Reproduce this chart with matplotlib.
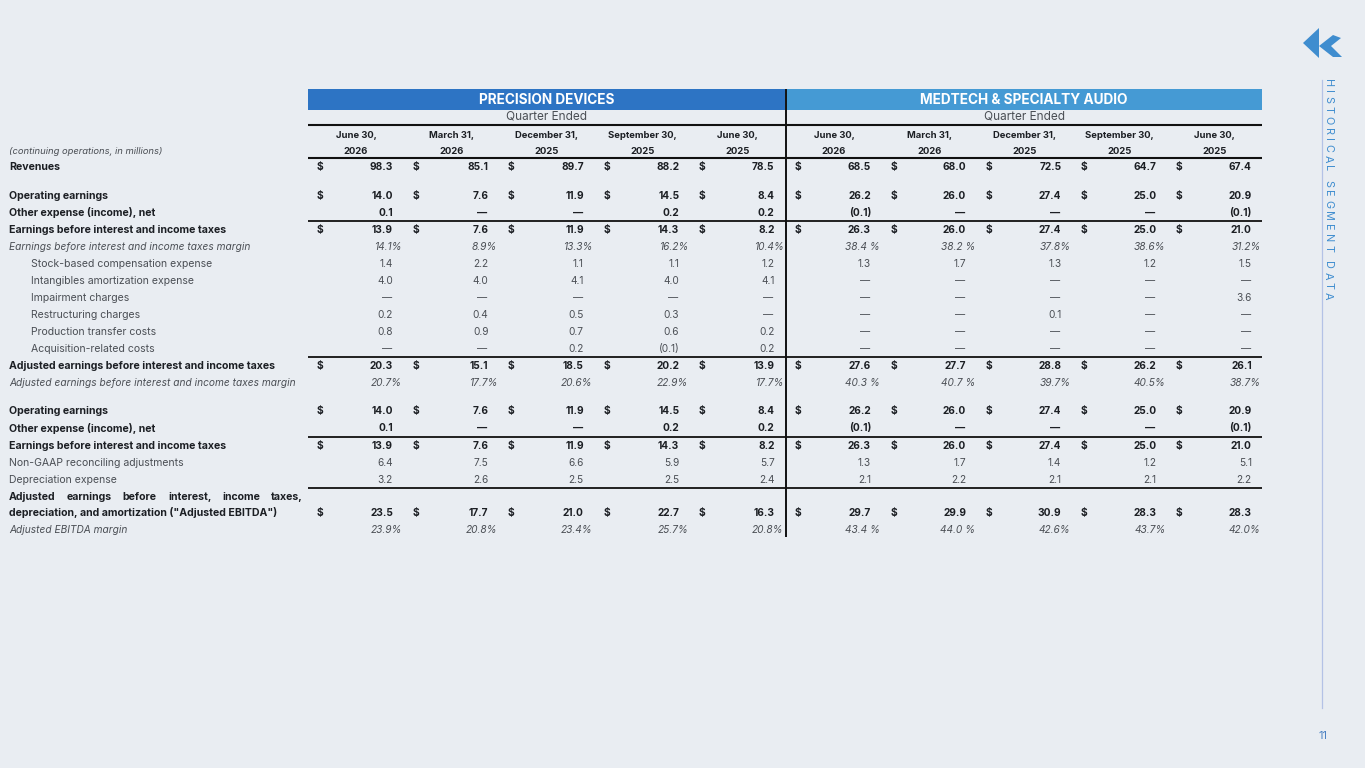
import matplotlib.pyplot as plt
from matplotlib.patches import Rectangle, Polygon

plt.rcParams['font.family'] = ['Inter', 'DejaVu Sans']

# ---------------------- DATA ----------------------
segments = ["PRECISION DEVICES", "MEDTECH & SPECIALTY AUDIO"]
quarters = ["June 30,", "March 31,", "December 31,", "September 30,", "June 30,"]
years = ["2026", "2026", "2025", "2025", "2025"]

# first five values: Precision Devices, last five: MedTech & Specialty Audio
# None = dash, negative = shown in parentheses
revenues = [98.3, 85.1, 89.7, 88.2, 78.5, 68.5, 68.0, 72.5, 64.7, 67.4]
operating_earnings = [14.0, 7.6, 11.9, 14.5, 8.4, 26.2, 26.0, 27.4, 25.0, 20.9]
other_expense = [0.1, None, None, 0.2, 0.2, -0.1, None, None, None, -0.1]
ebit = [13.9, 7.6, 11.9, 14.3, 8.2, 26.3, 26.0, 27.4, 25.0, 21.0]
ebit_margin = [14.1, 8.9, 13.3, 16.2, 10.4, 38.4, 38.2, 37.8, 38.6, 31.2]
stock_comp = [1.4, 2.2, 1.1, 1.1, 1.2, 1.3, 1.7, 1.3, 1.2, 1.5]
intangibles = [4.0, 4.0, 4.1, 4.0, 4.1, None, None, None, None, None]
impairment = [None, None, None, None, None, None, None, None, None, 3.6]
restructuring = [0.2, 0.4, 0.5, 0.3, None, None, None, 0.1, None, None]
production_transfer = [0.8, 0.9, 0.7, 0.6, 0.2, None, None, None, None, None]
acquisition = [None, None, 0.2, -0.1, 0.2, None, None, None, None, None]
adj_ebit = [20.3, 15.1, 18.5, 20.2, 13.9, 27.6, 27.7, 28.8, 26.2, 26.1]
adj_ebit_margin = [20.7, 17.7, 20.6, 22.9, 17.7, 40.3, 40.7, 39.7, 40.5, 38.7]
non_gaap_adj = [6.4, 7.5, 6.6, 5.9, 5.7, 1.3, 1.7, 1.4, 1.2, 5.1]
depreciation = [3.2, 2.6, 2.5, 2.5, 2.4, 2.1, 2.2, 2.1, 2.1, 2.2]
adj_ebitda = [23.5, 17.7, 21.0, 22.7, 16.3, 29.7, 29.9, 30.9, 28.3, 28.3]
adj_ebitda_margin = [23.9, 20.8, 23.4, 25.7, 20.8, 43.4, 44.0, 42.6, 43.7, 42.0]

rows = [
    ("Revenues", revenues),
    ("Operating earnings", operating_earnings),
    ("Other expense (income), net", other_expense),
    ("Earnings before interest and income taxes", ebit),
    ("Earnings before interest and income taxes margin", ebit_margin),
    ("Stock-based compensation expense", stock_comp),
    ("Intangibles amortization expense", intangibles),
    ("Impairment charges", impairment),
    ("Restructuring charges", restructuring),
    ("Production transfer costs", production_transfer),
    ("Acquisition-related costs", acquisition),
    ("Adjusted earnings before interest and income taxes", adj_ebit),
    ("Adjusted earnings before interest and income taxes margin", adj_ebit_margin),
    ("Operating earnings", operating_earnings),
    ("Other expense (income), net", other_expense),
    ("Earnings before interest and income taxes", ebit),
    ("Non-GAAP reconciling adjustments", non_gaap_adj),
    ("Depreciation expense", depreciation),
    ("Adjusted earnings before interest, income taxes,\n"
     "depreciation, and amortization (\"Adjusted EBITDA\")", adj_ebitda),
    ("Adjusted EBITDA margin", adj_ebitda_margin),
]

# ---------------------- LAYOUT / STYLE ----------------------
# dollar = bold with $, bold = bold no $, pct = italic margin, sub = indented, plain = regular
row_kinds = ["dollar", "dollar", "bold", "dollar", "pct", "sub", "sub", "sub", "sub",
             "sub", "sub", "dollar", "pct", "dollar", "bold", "dollar", "plain",
             "plain", "dollar", "pct"]
row_y = [167, 196, 213, 230, 247, 264, 281, 298, 315, 332, 349, 366, 383,
         411, 428, 446, 463, 480, 513, 530]
rule_y = [221, 357, 437, 488]

BG = "#e9edf2"
DARK = "#1c1f24"
GREY = "#4b4f55"
PD_BLUE = "#2d74c4"
MT_BLUE = "#459ad4"
ACCENT = "#3f8dcf"

seg_left = [308, 786]
seg_right = [785, 1262]
col_w = [(seg_right[0] - seg_left[0]) / 5, (seg_right[1] - seg_left[1]) / 5]
FS = 7.3          # numbers
FS_BOLD = 7.6     # bold row labels
FS_REG = 7.55     # regular row labels

fig = plt.figure(figsize=(13.65, 7.68), dpi=100)
fig.patch.set_facecolor(BG)
ax = fig.add_axes([0, 0, 1, 1])
ax.set_xlim(0, 1365)
ax.set_ylim(768, 0)
ax.axis("off")


def fmt(v, pct, spaced=False):
    if v is None:
        return "\u2014"
    if pct:
        return f"{v:.1f} %" if spaced else f"{v:.1f}%"
    if v < 0:
        return f"({abs(v):.1f})"
    return f"{v:.1f}"


# segment header bars
for s in range(2):
    color = PD_BLUE if s == 0 else MT_BLUE
    ax.add_patch(Rectangle((seg_left[s], 89), seg_right[s] - seg_left[s], 21,
                           facecolor=color, edgecolor="none"))
    mid = (seg_left[s] + seg_right[s]) / 2
    ax.text(mid, 100.5, segments[s], ha="center", va="center", color="white",
            fontsize=9.8, fontweight="bold")
    ax.text(mid, 117, "Quarter Ended", ha="center", va="center", color=GREY,
            fontsize=8.5)
    for i in range(5):
        x0 = seg_left[s] + i * col_w[s]
        ax.text(x0 + 48, 135, quarters[i], ha="center", va="center", color=DARK,
                fontsize=6.8, fontweight="bold")
        ax.text(x0 + 48, 151, years[i], ha="center", va="center", color=DARK,
                fontsize=6.8, fontweight="bold")

ax.text(9, 151, "(continuing operations, in millions)", ha="left", va="center",
        color=GREY, fontsize=6.8, style="italic")

# rules
for y in (125, 158):
    ax.plot([308, 1262], [y, y], color="#111111", lw=1.5, solid_capstyle="butt")
for y in rule_y:
    ax.plot([308, 1262], [y, y], color="#111111", lw=1.3, solid_capstyle="butt")
ax.plot([786, 786], [89, 537], color="#111111", lw=1.4, solid_capstyle="butt")

# table body
justify_jobs = []
for (label, vals), kind, y in zip(rows, row_kinds, row_y):
    bold = kind in ("dollar", "bold")
    pct = kind == "pct"
    weight = "bold" if bold else "normal"
    style = "italic" if pct else "normal"
    tcolor = DARK if bold else GREY
    lfs = FS_BOLD if bold else (FS if pct else FS_REG)
    if "\n" in label:
        justify_jobs.append((label.split("\n")[0], y - 16))
        ax.text(9, y, label.split("\n")[1], ha="left", va="center", color=tcolor,
                fontsize=lfs, fontweight=weight)
    else:
        lx = 31 if kind == "sub" else 9
        ax.text(lx, y, label, ha="left", va="center", color=tcolor,
                fontsize=lfs, fontweight=weight, style=style)
    for s in range(2):
        for i in range(5):
            x0 = seg_left[s] + i * col_w[s]
            v = vals[s * 5 + i]
            spaced = pct and s == 1 and i < 2
            txt = fmt(v, pct, spaced)
            if kind == "dollar":
                ax.text(x0 + 9, y, "$", ha="left", va="center", color=DARK,
                        fontsize=FS, fontweight="bold")
            xr = x0 + 94 if pct else x0 + 85
            if v is None:
                xr -= 1
            ax.text(xr, y, txt, ha="right", va="center", color=tcolor,
                    fontsize=FS, fontweight=weight, style=style)

fig.canvas.draw()
renderer = fig.canvas.get_renderer()

# justified first line of the EBITDA label
for line, y in justify_jobs:
    words = line.split(" ")
    widths = []
    for w in words:
        t = ax.text(0, y, w, fontsize=FS_BOLD, fontweight="bold")
        widths.append(t.get_window_extent(renderer).width)
        t.remove()
    gap = (303 - 9 - sum(widths)) / (len(words) - 1)
    x = 9
    for w, wd in zip(words, widths):
        ax.text(x, y, w, ha="left", va="center", color=DARK, fontsize=FS_BOLD,
                fontweight="bold")
        x += wd + gap

# side title with letter tracking
side = "HISTORICAL SEGMENT DATA"
sizes = []
for ch in side:
    t = ax.text(0, 0, ch if ch != " " else "I", fontsize=7.8)
    sizes.append(t.get_window_extent(renderer).width)
    t.remove()
track = (300 - 79 - sum(sizes)) / (len(side) - 1)
yy = 79
for ch, sz in zip(side, sizes):
    if ch != " ":
        ax.text(1328, yy + sz / 2, ch, rotation=270, ha="center", va="center",
                color=ACCENT, fontsize=7.8)
    yy += sz + track

ax.plot([1322, 1322], [80, 708], color="#b4c2e6", lw=0.9)
ax.text(1323, 736, "11", ha="center", va="center", color="#4a80c2", fontsize=8)

# logo
ax.add_patch(Polygon([(1303, 43), (1319, 28), (1319, 58)], closed=True,
                     facecolor=ACCENT, edgecolor="none"))
ax.add_patch(Polygon([(1319, 46), (1333, 35), (1341, 38), (1331, 46), (1342, 57),
                      (1333, 57)], closed=True, facecolor=ACCENT, edgecolor="none"))

fig.savefig("out.png", dpi=100, facecolor=BG)
